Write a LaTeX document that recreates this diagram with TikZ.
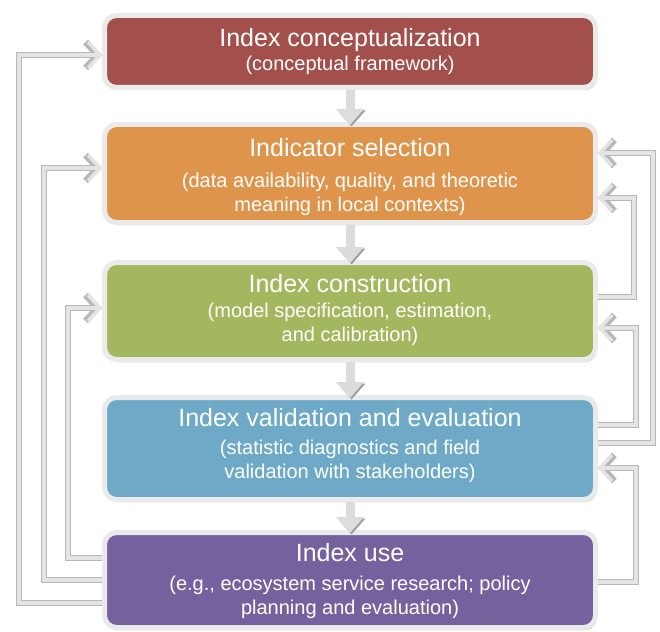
\documentclass[tikz,border=0pt]{standalone}
\usepackage{fontspec}
\setmainfont{Liberation Sans}
\usetikzlibrary{arrows.meta,shadows}
\definecolor{cred}{HTML}{A34F4B}
\definecolor{corange}{HTML}{DF944B}
\definecolor{cgreen}{HTML}{A3B75F}
\definecolor{cblue}{HTML}{6EAAC7}
\definecolor{cpurple}{HTML}{76619F}
\definecolor{cborder}{HTML}{EAEAEA}
\definecolor{cline}{HTML}{B8B8B8}
\definecolor{clinein}{HTML}{E4E4E4}
\definecolor{cdown}{HTML}{DCDCDC}
\begin{document}
\begin{tikzpicture}[x=1pt,y=-1pt,
  box/.style={draw=cborder, line width=5pt, rounded corners=12pt,
    minimum width=491pt, inner sep=0pt,
    drop shadow={shadow xshift=1.5pt,shadow yshift=-2.5pt,opacity=.55}},
  ttl/.style={text=white, anchor=base, inner sep=0pt, font=\fontsize{25}{30}\selectfont},
  sub/.style={text=white, anchor=base, inner sep=0pt, font=\fontsize{20}{24}\selectfont},
  conn/.style={draw=cline, line width=6.5pt, line join=miter,
    -{Straight Barb[length=12pt,width=26pt]},
    postaction={draw=clinein, line width=3.2pt, line join=miter,
      -{Straight Barb[length=12pt,width=26pt]}}},
  downarr/.style={draw=cdown, line width=9pt, shorten >=-3pt,
    -{Triangle[length=16pt,width=28pt,line width=0pt]},
    preaction={draw=gray!75, transform canvas={xshift=1.5pt,yshift=-1.5pt}}}
]
\useasboundingbox (0,0) rectangle (660,631);

% boxes
\node[box, fill=cred, minimum height=72pt] (b1) at (350,51.5) {};
\node[box, fill=corange, minimum height=98pt] (b2) at (350,173.5) {};
\node[box, fill=cgreen, minimum height=97pt] (b3) at (350,311) {};
\node[box, fill=cblue, minimum height=102pt] (b4) at (350,448.5) {};
\node[box, fill=cpurple, minimum height=95pt] (b5) at (350,580) {};

% texts
\node[ttl] (t1) at (350,47) {Index conceptualization};
\node[sub] (s1a) at (350,71) {(conceptual framework)};

\node[ttl] (t2) at (350,157) {Indicator selection};
\node[sub] (s2a) at (350,187) {(data availability, quality, and theoretic};
\node[sub] (s2b) at (350,211) {meaning in local contexts)};

\node[ttl] (t3) at (350,292) {Index construction};
\node[sub] (s3a) at (350,317) {(model specification, estimation,};
\node[sub] (s3b) at (350,341) {and calibration)};

\node[ttl] (t4) at (350,426) {Index validation and evaluation};
\node[sub] (s4a) at (350,454) {(statistic diagnostics and field};
\node[sub] (s4b) at (350,478) {validation with stakeholders)};

\node[ttl] (t5) at (350,561) {Index use};
\node[sub] (s5a) at (350,590) {(e.g., ecosystem service research; policy};
\node[sub] (s5b) at (350,614) {planning and evaluation)};

% downward arrows
\draw[downarr] (b1.south) -- (b2.north);
\draw[downarr] (b2.south) -- (b3.north);
\draw[downarr] (b3.south) -- (b4.north);
\draw[downarr] (b4.south) -- (b5.north);

% lane coordinates
\coordinate (l1) at (19,0);
\coordinate (l2) at (44,0);
\coordinate (l3) at (68,0);
\coordinate (r1) at (634,0);
\coordinate (r2) at (653,0);
\coordinate (r3) at (636,0);
\coordinate (r4) at (636,0);

% ports
\coordinate (b5o1) at ([yshift=-23pt]b5.west);
\coordinate (b5o2) at ([yshift=0pt]b5.west);
\coordinate (b5o3) at ([yshift=22pt]b5.west);
\coordinate (b1i) at ([yshift=-3.5pt]b1.west);
\coordinate (b2i) at ([yshift=5.5pt]b2.west);
\coordinate (b3i) at ([yshift=3pt]b3.west);

\coordinate (b3o) at ([yshift=14pt]b3.east);
\coordinate (b2iA) at ([yshift=-24.5pt]b2.east);
\coordinate (b4oA) at ([yshift=5.5pt]b4.east);
\coordinate (b2iB) at ([yshift=20.5pt]b2.east);
\coordinate (b4oB) at ([yshift=23.5pt]b4.east);
\coordinate (b3iB) at ([yshift=-17pt]b3.east);
\coordinate (b5oR) at ([yshift=-2pt]b5.east);
\coordinate (b4iR) at ([yshift=-19.5pt]b4.east);

% left feedback loops
\draw[conn] (b5o1) -| (l1 |- b1i) -- (b1i);
\draw[conn] (b5o2) -| (l2 |- b2i) -- (b2i);
\draw[conn] (b5o3) -| (l3 |- b3i) -- (b3i);

% right feedback loops
\draw[conn] (b3o) -| (r1 |- b2iA) -- (b2iA);
\draw[conn] (b4oA) -| (r2 |- b2iB) -- (b2iB);
\draw[conn] (b4oB) -| (r3 |- b3iB) -- (b3iB);
\draw[conn] (b5oR) -| (r4 |- b4iR) -- (b4iR);
\end{tikzpicture}
\end{document}
